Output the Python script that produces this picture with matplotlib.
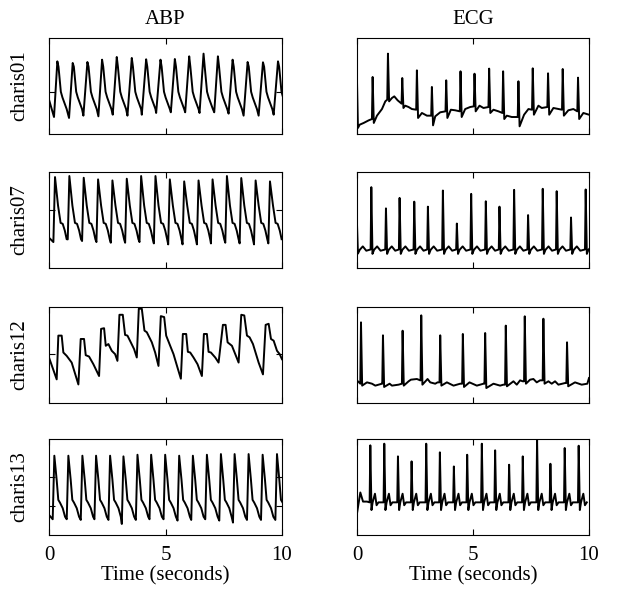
import numpy as np
import matplotlib
matplotlib.use("Agg")
import matplotlib.pyplot as plt

plt.rcParams['font.family'] = ['Liberation Serif', 'DejaVu Serif']
plt.rcParams['font.size'] = 15

# ---------------- labels ----------------
records = ["charis01", "charis07", "charis12", "charis13"]
columns = ["ABP", "ECG"]
x_ticks = [0, 5, 10]
x_label = "Time (seconds)"

# ---------------- ABP charis01 (beat features, normalised units) ----------------
abp01_trough_t = [0.215, 0.86, 1.476, 2.12, 2.736, 3.367, 3.983, 4.599, 5.229, 5.845,
                  6.461, 7.092, 7.708, 8.352, 8.997, 9.642]
abp01_trough_y = [0.177, 0.167, 0.191, 0.184, 0.201, 0.191, 0.201, 0.219, 0.226, 0.226,
                  0.219, 0.226, 0.212, 0.191, 0.191, 0.201]
abp01_peak_t = [0.358, 1.017, 1.648, 2.278, 2.908, 3.553, 4.169, 4.785, 5.401, 6.017,
                6.633, 7.249, 7.880, 8.524, 9.183, 9.828]
abp01_peak_y = [0.757, 0.740, 0.750, 0.774, 0.802, 0.792, 0.778, 0.774, 0.781, 0.809,
                0.837, 0.809, 0.774, 0.750, 0.747, 0.757]
abp01_shape_dt = [0.05, 0.15, 0.22, 0.40]
abp01_shape_y = [0.70, 0.44, 0.38, 0.26]
abp01_start = [(0.0, 0.358)]
abp01_yticks = [0.434]

# ---------------- ABP charis07 ----------------
abp07_trough_t = [0.188, 0.804, 1.420, 2.036, 2.652, 3.268, 3.884, 4.500, 5.116, 5.732,
                  6.348, 6.950, 7.566, 8.182, 8.798, 9.414]
abp07_trough_y = [0.270, 0.298, 0.281, 0.270, 0.263, 0.263, 0.270, 0.256, 0.246, 0.246,
                  0.246, 0.256, 0.263, 0.256, 0.246, 0.256]
abp07_peak_t = [0.258, 0.874, 1.490, 2.106, 2.722, 3.338, 3.954, 4.570, 5.186, 5.802,
                6.418, 7.020, 7.636, 8.252, 8.868, 9.484]
abp07_peak_y = [0.947, 0.958, 0.940, 0.923, 0.912, 0.930, 0.958, 0.958, 0.923, 0.902,
                0.912, 0.923, 0.958, 0.937, 0.912, 0.902]
abp07_shape_dt = [0.13, 0.24, 0.33, 0.42, 0.50]
abp07_shape_y = [0.65, 0.47, 0.46, 0.39, 0.30]
abp07_start = [(0.0, 0.316)]
abp07_yticks = [0.60]

# ---------------- ABP charis12 (vertices) ----------------
abp12_t = [0.0, 0.330, 0.401, 0.544, 0.616, 0.759, 0.974, 1.261, 1.361, 1.504,
           1.576, 1.719, 1.905, 2.149, 2.235, 2.364, 2.436, 2.550, 2.693, 2.837,
           2.937, 3.023, 3.166, 3.266, 3.367, 3.510, 3.653, 3.768, 3.854, 3.983,
           4.097, 4.198, 4.413, 4.556, 4.699, 4.799, 4.943, 5.029, 5.201, 5.344,
           5.516, 5.659, 5.745, 5.888, 5.960, 6.060, 6.203, 6.375, 6.562, 6.648,
           6.777, 6.848, 6.948, 7.135, 7.278, 7.464, 7.579, 7.665, 7.851, 7.994,
           8.138, 8.252, 8.381, 8.496, 8.610, 8.754, 8.997, 9.183, 9.298, 9.427,
           9.527, 9.642, 9.785, 9.900, 10.0]
abp12_y = [0.474, 0.246, 0.702, 0.702, 0.526, 0.491, 0.421, 0.193, 0.667, 0.667,
           0.498, 0.484, 0.404, 0.281, 0.772, 0.779, 0.596, 0.614, 0.544, 0.509,
           0.439, 0.919, 0.919, 0.709, 0.702, 0.632, 0.561, 0.474, 0.982, 0.982,
           0.754, 0.737, 0.632, 0.526, 0.386, 0.905, 0.895, 0.702, 0.596, 0.509,
           0.368, 0.253, 0.719, 0.719, 0.533, 0.526, 0.474, 0.404, 0.281, 0.719,
           0.719, 0.533, 0.526, 0.474, 0.421, 0.814, 0.814, 0.632, 0.596, 0.509,
           0.421, 0.919, 0.912, 0.702, 0.684, 0.614, 0.421, 0.298, 0.814, 0.825,
           0.667, 0.649, 0.544, 0.509, 0.456]
abp12_yticks = [0.51]

# ---------------- ABP charis13 ----------------
abp13_trough_t = [0.159, 0.761, 1.363, 1.950, 2.552, 3.125, 3.727, 4.314, 4.916, 5.517,
                  6.105, 6.707, 7.308, 7.896, 8.497, 9.099, 9.715]
abp13_trough_y = [0.164, 0.164, 0.157, 0.164, 0.157, 0.115, 0.157, 0.164, 0.164, 0.150,
                  0.157, 0.164, 0.150, 0.129, 0.157, 0.157, 0.157]
abp13_peak_t = [0.229, 0.831, 1.433, 2.020, 2.622, 3.195, 3.797, 4.384, 4.986, 5.587,
                6.175, 6.777, 7.378, 7.966, 8.567, 9.169, 9.785]
abp13_peak_y = [0.826, 0.826, 0.826, 0.826, 0.826, 0.819, 0.836, 0.836, 0.836, 0.826,
                0.826, 0.836, 0.843, 0.843, 0.843, 0.836, 0.843]
abp13_shape_dt = [0.10, 0.17, 0.24, 0.36, 0.46]
abp13_shape_y = [0.575, 0.366, 0.338, 0.279, 0.19]
abp13_start = [(0.0, 0.209)]
abp13_yticks = [0.30, 0.60]

# ---------------- ECG charis01 ----------------
ecg01_r_t = [0.674, 1.334, 1.951, 2.582, 3.228, 3.845, 4.462, 5.065, 5.696, 6.298,
             6.958, 7.575, 8.235, 8.867, 9.527]
ecg01_r_y = [0.594, 0.837, 0.583, 0.663, 0.490, 0.559, 0.653, 0.628, 0.681, 0.653,
             0.549, 0.684, 0.632, 0.677, 0.587]
ecg01_q_y = [0.156, 0.358, 0.316, 0.253, 0.191, 0.236, 0.236, 0.288, 0.281, 0.219,
             0.177, 0.253, 0.281, 0.253, 0.236]
ecg01_s_y = [0.115, 0.340, 0.271, 0.167, 0.090, 0.167, 0.177, 0.236, 0.219, 0.156,
             0.080, 0.201, 0.201, 0.191, 0.156]
ecg01_base_t = [0.0, 0.04, 0.115, 0.287, 0.502, 0.861, 1.076, 1.220, 1.506, 1.607,
                1.750, 2.080, 2.224, 2.367, 2.798, 3.013, 3.372, 3.587, 4.046, 4.232,
                4.663, 4.878, 5.280, 5.452, 5.882, 6.098, 6.456, 6.671, 7.202, 7.389,
                7.819, 7.963, 8.465, 9.110, 9.326, 9.756, 10.0]
ecg01_base_y = [0.549, 0.063, 0.097, 0.115, 0.142, 0.191, 0.260, 0.340, 0.375, 0.392,
                0.351, 0.295, 0.281, 0.260, 0.219, 0.191, 0.184, 0.226, 0.253, 0.247,
                0.260, 0.281, 0.295, 0.271, 0.253, 0.236, 0.191, 0.177, 0.201, 0.260,
                0.295, 0.271, 0.271, 0.247, 0.260, 0.219, 0.201]
ecg01_wave_dt = []
ecg01_wave_y = []

# ---------------- ECG charis07 ----------------
ecg07_r_t = [0.617, 1.248, 1.836, 2.468, 3.056, 3.702, 4.304, 4.921, 5.552, 6.141,
             6.772, 7.374, 8.006, 8.608, 9.225, 9.857]
ecg07_r_y = [0.842, 0.621, 0.730, 0.691, 0.639, 0.807, 0.463, 0.772, 0.695, 0.639,
             0.814, 0.551, 0.825, 0.800, 0.526, 0.818]
ecg07_q_y = [0.193] * 16
ecg07_s_y = [0.147] * 16
ecg07_base_t = [0.0, 0.04, 0.12, 0.25, 0.40]
ecg07_base_y = [0.456, 0.150, 0.190, 0.225, 0.180]
ecg07_wave_dt = [0.12, 0.25, 0.40]
ecg07_wave_y = [0.190, 0.225, 0.180]

# ---------------- ECG charis12 ----------------
ecg12_r_t = [0.172, 1.119, 1.966, 2.769, 3.587, 4.562, 5.524, 6.413, 7.231, 8.034, 9.053]
ecg12_r_y = [0.840, 0.705, 0.753, 0.913, 0.705, 0.719, 0.729, 0.806, 0.903, 0.878, 0.632]
ecg12_q_y = [0.201, 0.201, 0.201, 0.236, 0.215, 0.201, 0.201, 0.191, 0.226, 0.236, 0.208]
ecg12_s_y = [0.181, 0.167, 0.181, 0.191, 0.181, 0.167, 0.156, 0.174, 0.201, 0.201, 0.174]
ecg12_base_t = [0.0, 0.043, 0.430, 0.646, 0.789, 1.076, 1.406, 1.506, 1.793, 2.224,
                2.324, 2.582, 2.726, 3.042, 3.156, 3.372, 3.472, 3.874, 4.161, 4.448,
                4.849, 5.165, 5.452, 5.882, 6.169, 6.313, 6.743, 6.887, 7.030, 7.145,
                7.461, 7.604, 7.747, 7.891, 8.250, 8.393, 8.537, 8.680, 8.967, 9.397,
                9.684, 9.928, 10.0]
ecg12_base_y = [0.226, 0.226, 0.215, 0.201, 0.181, 0.201, 0.201, 0.181, 0.191, 0.226,
                0.243, 0.250, 0.236, 0.250, 0.215, 0.201, 0.215, 0.215, 0.181, 0.201,
                0.215, 0.181, 0.201, 0.201, 0.181, 0.191, 0.226, 0.191, 0.236, 0.226,
                0.243, 0.250, 0.215, 0.236, 0.226, 0.201, 0.226, 0.191, 0.208, 0.215,
                0.191, 0.201, 0.260]
ecg12_wave_dt = []
ecg12_wave_y = []

# ---------------- ECG charis13 ----------------
ecg13_r_t = [0.574, 1.176, 1.765, 2.353, 2.984, 3.572, 4.175, 4.749, 5.380, 5.954,
             6.557, 7.145, 7.762, 8.336, 8.953, 9.555]
ecg13_r_y = [0.934, 0.951, 0.819, 0.767, 0.951, 0.861, 0.714, 0.836, 0.951, 0.882,
             0.732, 0.819, 0.993, 0.742, 0.906, 0.930]
ecg13_q_y = [0.34] * 16
ecg13_s_y = [0.26] * 16
ecg13_base_t = [0.0, 0.143, 0.26, 0.43]
ecg13_base_y = [0.226, 0.443, 0.348, 0.348]
ecg13_wave_dt = [0.10, 0.20, 0.27, 0.35]
ecg13_wave_y = [0.34, 0.43, 0.31, 0.34]


def abp_trace(trough_t, trough_y, peak_t, peak_y, shape_dt, shape_y, start):
    pts = list(start)
    for i in range(len(peak_t)):
        pts.append((trough_t[i], trough_y[i]))
        pts.append((peak_t[i], peak_y[i]))
        for dt, yy in zip(shape_dt, shape_y):
            pts.append((peak_t[i] + dt, yy))
    pts.sort()
    t, y = zip(*pts)
    return np.array(t), np.array(y)


def ecg_trace(r_t, r_y, q_y, s_y, base_t, base_y, wave_dt, wave_y):
    pts = list(zip(base_t, base_y))
    for i in range(len(r_t)):
        pts.append((r_t[i] - 0.03, q_y[i]))
        pts.append((r_t[i], r_y[i]))
        pts.append((r_t[i] + 0.05, s_y[i]))
        for dt, yy in zip(wave_dt, wave_y):
            pts.append((r_t[i] + dt, yy))
    pts = sorted(p for p in pts if p[0] >= 0)
    t, y = zip(*pts)
    return np.array(t), np.array(y)


abp_series = [
    (abp_trace(abp01_trough_t, abp01_trough_y, abp01_peak_t, abp01_peak_y,
               abp01_shape_dt, abp01_shape_y, abp01_start), abp01_yticks),
    (abp_trace(abp07_trough_t, abp07_trough_y, abp07_peak_t, abp07_peak_y,
               abp07_shape_dt, abp07_shape_y, abp07_start), abp07_yticks),
    ((np.array(abp12_t), np.array(abp12_y)), abp12_yticks),
    (abp_trace(abp13_trough_t, abp13_trough_y, abp13_peak_t, abp13_peak_y,
               abp13_shape_dt, abp13_shape_y, abp13_start), abp13_yticks),
]
ecg_series = [
    ecg_trace(ecg01_r_t, ecg01_r_y, ecg01_q_y, ecg01_s_y, ecg01_base_t, ecg01_base_y,
              ecg01_wave_dt, ecg01_wave_y),
    ecg_trace(ecg07_r_t, ecg07_r_y, ecg07_q_y, ecg07_s_y, ecg07_base_t, ecg07_base_y,
              ecg07_wave_dt, ecg07_wave_y),
    ecg_trace(ecg12_r_t, ecg12_r_y, ecg12_q_y, ecg12_s_y, ecg12_base_t, ecg12_base_y,
              ecg12_wave_dt, ecg12_wave_y),
    ecg_trace(ecg13_r_t, ecg13_r_y, ecg13_q_y, ecg13_s_y, ecg13_base_t, ecg13_base_y,
              ecg13_wave_dt, ecg13_wave_y),
]

fig = plt.figure(figsize=(6.18, 5.90), dpi=100)
W, H = 618.0, 590.0
col_left = [49, 357]
col_width = [233, 232]
row_top = [38, 172, 307, 439]
row_height = 96

for r in range(4):
    for c in range(2):
        ax = fig.add_axes([col_left[c] / W, 1 - (row_top[r] + row_height) / H,
                           col_width[c] / W, row_height / H])
        if c == 0:
            (t, y), yt = abp_series[r]
            ax.set_yticks(yt)
        else:
            t, y = ecg_series[r]
            ax.set_yticks([])
        ax.plot(t, y, color='black', lw=1.4, solid_joinstyle='round')
        ax.set_xlim(0, 10)
        ax.set_ylim(0, 1)
        ax.set_xticks(x_ticks)
        ax.tick_params(direction='in', top=True, right=True, length=4, width=0.8,
                       labelleft=False, labelsize=15, pad=8)
        for s in ax.spines.values():
            s.set_linewidth(0.8)
        if r < 3:
            ax.tick_params(labelbottom=False)
        else:
            ax.set_xlabel(x_label, fontsize=15, labelpad=1)
        if r == 0:
            ax.set_title(columns[c], fontsize=15, pad=10)
        if c == 0:
            ax.set_ylabel(records[r], fontsize=15, labelpad=14)

fig.savefig("out.png", dpi=100)
